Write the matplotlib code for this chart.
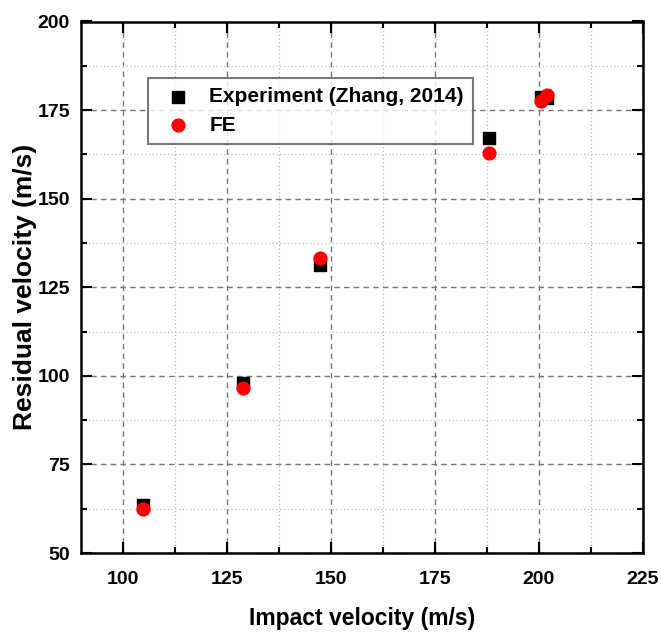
import matplotlib
matplotlib.use("Agg")
import matplotlib.pyplot as plt
from matplotlib.ticker import MultipleLocator

exp_x = [105, 129, 147.5, 188, 200.5, 202]
exp_y = [63.5, 98, 131.3, 167, 178.8, 178.5]
fe_x = [105, 129, 147.5, 188, 200.5, 202]
fe_y = [62.3, 96.7, 133.2, 163, 177.5, 179.2]

plt.rcParams['font.family'] = ['Liberation Sans', 'DejaVu Sans']
plt.rcParams['font.weight'] = 'bold'

fig = plt.figure(figsize=(6.61, 6.36), dpi=100)
ax = fig.add_axes([81/661, 1-553/636, 562/661, 531.5/636])

ax.set_xlim(90, 225)
ax.set_ylim(50, 200)
ax.xaxis.set_major_locator(MultipleLocator(25))
ax.xaxis.set_minor_locator(MultipleLocator(12.5))
ax.yaxis.set_major_locator(MultipleLocator(25))
ax.yaxis.set_minor_locator(MultipleLocator(12.5))
ax.grid(which='major', color='#777777', linestyle=(0, (4, 3)), linewidth=1.0)
ax.grid(which='minor', color='#bbbbbb', linestyle=(0, (1, 2)), linewidth=0.9)
ax.set_axisbelow(True)

ax.tick_params(which='both', direction='in', top=True, right=True, labelsize=14, width=1.5)
ax.tick_params(which='major', length=8)
ax.tick_params(axis='x', which='major', pad=13)
ax.tick_params(axis='y', which='major', pad=8)
ax.tick_params(which='minor', length=4)
for lab in ax.get_xticklabels() + ax.get_yticklabels():
    lab.set_fontweight('bold')
for s in ax.spines.values():
    s.set_linewidth(1.8)

ax.scatter(exp_x, exp_y, marker='s', s=70, color='black', label='Experiment (Zhang, 2014)', zorder=3)
ax.scatter(fe_x, fe_y, marker='o', s=85, color='red', label='FE', zorder=4)

ax.set_xlabel('Impact velocity (m/s)', fontsize=16.5, fontweight='bold', labelpad=14)
ax.set_ylabel('Residual velocity (m/s)', fontsize=19, fontweight='bold', labelpad=0)

leg = ax.legend(loc='upper left', bbox_to_anchor=(0.119, 0.894), fontsize=15, frameon=True,
                fancybox=False, edgecolor='#555555', borderpad=0.45, handletextpad=0.5,
                borderaxespad=0, labelspacing=0.45)
leg.get_frame().set_linewidth(1.5)
for t in leg.get_texts():
    t.set_fontweight('bold')

fig.savefig('out.png', dpi=100)
